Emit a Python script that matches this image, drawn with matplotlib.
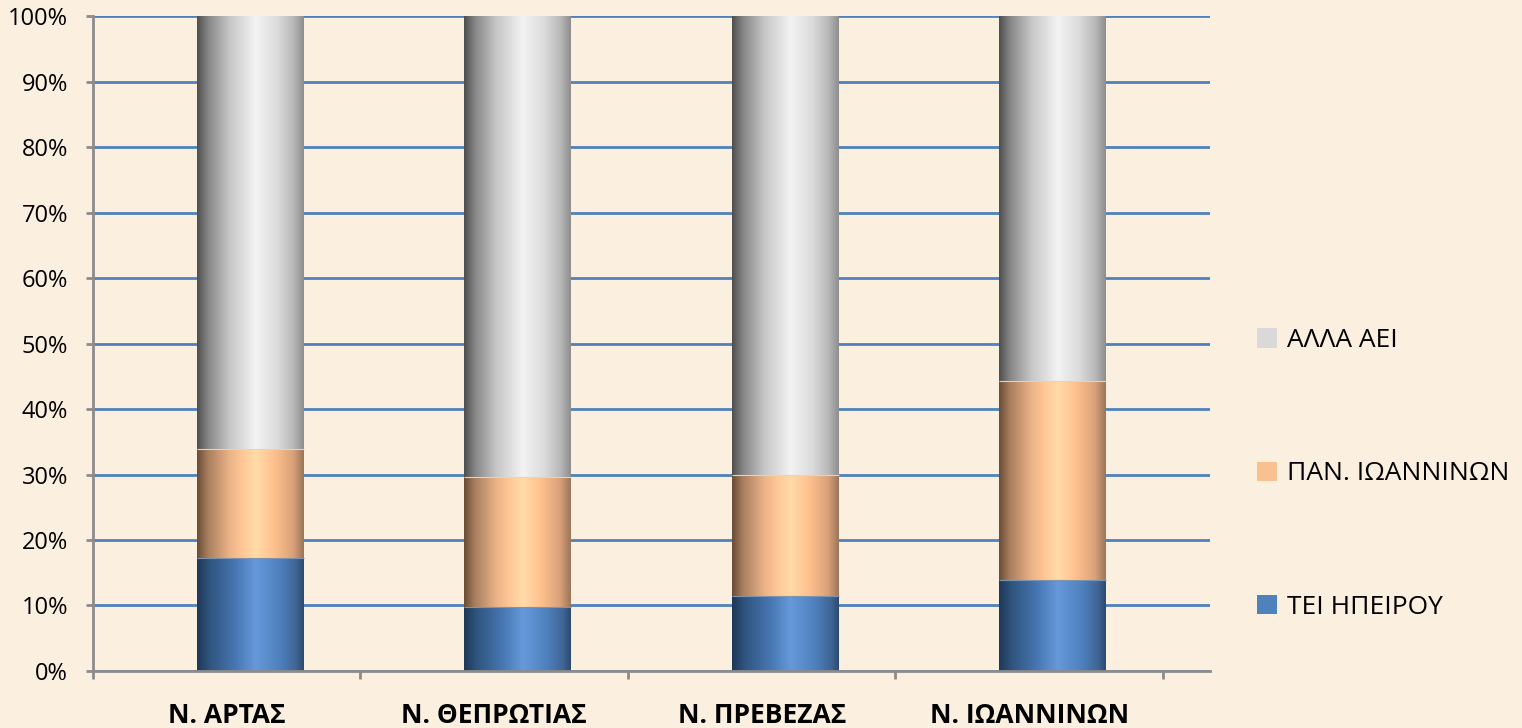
import numpy as np
import matplotlib
matplotlib.use("Agg")
import matplotlib.pyplot as plt
from matplotlib.colors import LinearSegmentedColormap
from matplotlib.patches import Patch

plt.rcParams['font.family'] = ['Open Sans', 'DejaVu Sans']

# data (percent of students per prefecture)
categories = ["Ν. ΑΡΤΑΣ", "Ν. ΘΕΠΡΩΤΙΑΣ", "Ν. ΠΡΕΒΕΖΑΣ", "Ν. ΙΩΑΝΝΙΝΩΝ"]
tei_ipeirou = [17.2, 9.8, 11.5, 13.9]
pan_ioanninon = [16.7, 19.8, 18.4, 30.4]
alla_aei = [66.1, 70.4, 70.1, 55.7]
series_names = ["ΤΕΙ ΗΠΕΙΡΟΥ", "ΠΑΝ. ΙΩΑΝΝΙΝΩΝ", "ΑΛΛΑ ΑΕΙ"]

background = "#FBEFE0"
grid_col = "#4F81BD"
axis_col = "#8C8C8C"

# cylinder-like shading for each series
blue_cm = LinearSegmentedColormap.from_list("b", [
    (0.0, "#1E3857"), (0.12, "#30557F"), (0.35, "#4675B0"), (0.55, "#6699DB"),
    (0.78, "#4F80BD"), (0.93, "#3E6594"), (1.0, "#2C4A70")])
orange_cm = LinearSegmentedColormap.from_list("o", [
    (0.0, "#6A4C34"), (0.1, "#A87E5E"), (0.3, "#EAB287"), (0.42, "#FFC794"),
    (0.55, "#FFDBA8"), (0.72, "#FFC18D"), (0.9, "#D9A17A"), (1.0, "#9A7659")])
grey_cm = LinearSegmentedColormap.from_list("g", [
    (0.0, "#4E4E4E"), (0.1, "#858585"), (0.3, "#C6C6C6"), (0.55, "#F3F3F3"),
    (0.75, "#DCDCDC"), (0.9, "#B9B9B9"), (1.0, "#8E8E8E")])
legend_cols = ["#4F81BD", "#F9C090", "#D9D9D9"]

fig = plt.figure(figsize=(15.22, 7.28), dpi=100)
fig.set_facecolor(background)
ax = fig.add_axes([0.0611, 0.0783, 0.7339, 0.8997])
ax.set_facecolor(background)

x = np.arange(len(categories))
width = 0.40
shift = 0.088  # bars sit a bit right of the category centre
grad = np.linspace(0, 1, 256).reshape(1, -1)

bottom = np.zeros(len(categories))
for vals, cm in zip([tei_ipeirou, pan_ioanninon, alla_aei], [blue_cm, orange_cm, grey_cm]):
    bars = ax.bar(x + shift, vals, width, bottom=bottom, color="none", edgecolor="none", zorder=3)
    for b in bars:
        x0, y0 = b.get_x(), b.get_y()
        im = ax.imshow(grad, cmap=cm, aspect="auto", interpolation="bicubic",
                       extent=[x0, x0 + b.get_width(), y0, y0 + b.get_height()], zorder=3)
        im.set_clip_path(b)
    bottom = bottom + np.array(vals)

# faint separators between stacked segments
ax.hlines(np.array(tei_ipeirou), x + shift - width / 2, x + shift + width / 2,
          color="#7f93ad", lw=0.8, zorder=4)
ax.hlines(np.array(tei_ipeirou) + np.array(pan_ioanninon), x + shift - width / 2,
          x + shift + width / 2, color="#e8d2bd", lw=0.8, zorder=4)

ax.set_xlim(-0.5, 3.676)
ax.set_ylim(0, 100)
ax.set_yticks(np.arange(0, 101, 10))
ax.set_yticklabels([f"{v}%" for v in range(0, 101, 10)], fontsize=17)
ax.grid(axis="y", color=grid_col, lw=2, zorder=1)
ax.set_axisbelow(True)

ax.set_xticks(np.arange(-0.5, 4, 1))
ax.set_xticklabels([])
ax.set_xticks(x, minor=True)
ax.set_xticklabels(categories, minor=True, fontsize=19, fontweight="bold")
ax.tick_params(axis="x", which="minor", length=0, pad=22)
ax.tick_params(axis="x", which="major", length=6, width=2, color=axis_col)
ax.tick_params(axis="y", length=5, width=2, color=axis_col, pad=13)

for s in ["top", "right"]:
    ax.spines[s].set_visible(False)
for s in ["left", "bottom"]:
    ax.spines[s].set_color(axis_col)
    ax.spines[s].set_linewidth(2)
    ax.spines[s].set_zorder(5)

# legend
handles = [Patch(facecolor=c, edgecolor="none") for c in legend_cols[::-1]]
leg = fig.legend(handles, series_names[::-1], loc="center left", bbox_to_anchor=(0.819, 0.349),
                 frameon=False, fontsize=19, labelspacing=4.1, handlelength=0.75,
                 handleheight=0.75, handletextpad=0.4, borderaxespad=0)

fig.savefig("out.png", dpi=100, facecolor=background)
